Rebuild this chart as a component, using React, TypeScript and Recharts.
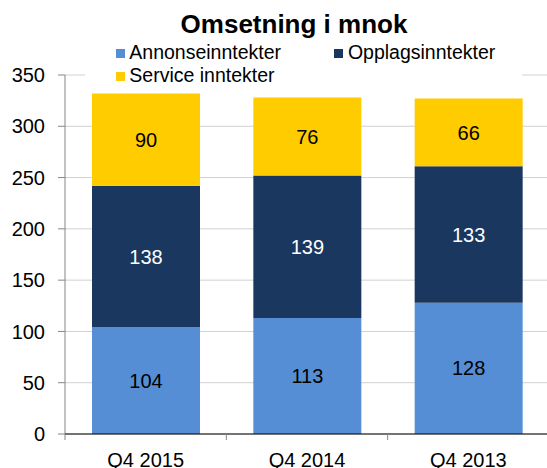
import React from "react";
import { BarChart, Bar, XAxis, YAxis, CartesianGrid, LabelList } from "recharts";

const categories = ["Q4 2015", "Q4 2014", "Q4 2013"];
const annonse = [104, 113, 128];
const opplag = [138, 139, 133];
const service = [90, 76, 66];
const yTicks = [0, 50, 100, 150, 200, 250, 300, 350];
const title = "Omsetning i mnok";
const seriesNames = ["Annonseinntekter", "Opplagsinntekter", "Service inntekter"];

const data = categories.map((c, i) => ({
  name: c,
  annonse: annonse[i],
  opplag: opplag[i],
  service: service[i],
}));

const FONT = "'Liberation Sans', Arial, Helvetica, sans-serif";
const BLUE = "#558ED5";
const NAVY = "#1A3760";
const YELLOW = "#FFCC00";
const AXIS_GRAY = "#868686";

const CHART_W = 549;
const LEFT = 65;
const HALF_BAND = (CHART_W - LEFT) / 3 / 2;

const XTick = (props: any) => {
  const { x, y, payload } = props;
  return (
    <g>
      <line x1={x - HALF_BAND} x2={x - HALF_BAND} y1={y} y2={y + 6} stroke={AXIS_GRAY} strokeWidth={1} />
      <text x={x} y={y + 18.5} dy="0.71em" textAnchor="middle" fill="#000" fontSize={20} fontFamily={FONT}>
        {payload.value}
      </text>
    </g>
  );
};

const legendItems = [
  { name: seriesNames[0], color: BLUE, left: 30.7, top: 0 },
  { name: seriesNames[1], color: NAVY, left: 249.3, top: 0 },
  { name: seriesNames[2], color: YELLOW, left: 30.7, top: 23 },
];

export default function App() {
  return (
    <div
      style={{
        position: "absolute",
        left: 0,
        top: 0,
        width: 547,
        height: 468,
        overflow: "hidden",
        background: "#fff",
        fontFamily: FONT,
      }}
    >
      <BarChart width={CHART_W} height={468} data={data} margin={{ top: 75, right: 0, bottom: 0, left: 0 }} barSize={108}>
        <CartesianGrid vertical={false} stroke="#D0D0D0" strokeWidth={1} />
        <YAxis
          width={LEFT}
          domain={[0, 350]}
          ticks={yTicks}
          interval={0}
          axisLine={{ stroke: AXIS_GRAY, strokeWidth: 1 }}
          tickLine={{ stroke: AXIS_GRAY, strokeWidth: 1 }}
          tickSize={7}
          tickMargin={13}
          tick={{ fill: "#000", fontSize: 20, fontFamily: FONT }}
        />
        <XAxis
          dataKey="name"
          height={34}
          axisLine={{ stroke: "#000", strokeWidth: 1 }}
          tickLine={false}
          tickSize={0}
          tickMargin={0}
          interval={0}
          tick={<XTick />}
        />
        <Bar dataKey="annonse" stackId="a" fill={BLUE} isAnimationActive={false}>
          <LabelList dataKey="annonse" position="center" fill="#000" fontSize={20} fontFamily={FONT} />
        </Bar>
        <Bar dataKey="opplag" stackId="a" fill={NAVY} isAnimationActive={false}>
          <LabelList dataKey="opplag" position="center" fill="#fff" fontSize={20} fontFamily={FONT} />
        </Bar>
        <Bar dataKey="service" stackId="a" fill={YELLOW} isAnimationActive={false}>
          <LabelList dataKey="service" position="center" fill="#000" fontSize={20} fontFamily={FONT} />
        </Bar>
      </BarChart>
      <div
        style={{
          position: "absolute",
          left: 94,
          top: 9,
          width: 400,
          textAlign: "center",
          fontSize: 26,
          lineHeight: "30px",
          fontWeight: "bold",
          color: "#000",
          whiteSpace: "nowrap",
        }}
      >
        {title}
      </div>
      <div
        style={{
          position: "absolute",
          left: 85,
          top: 41,
          width: 437,
          height: 46,
          background: "#fff",
        }}
      >
        {legendItems.map((it) => (
          <div
            key={it.name}
            style={{
              position: "absolute",
              left: it.left,
              top: it.top,
              height: 23,
              lineHeight: "23px",
              fontSize: 19.5,
              color: "#000",
              whiteSpace: "nowrap",
            }}
          >
            <span
              style={{
                position: "absolute",
                left: 0,
                top: 8,
                width: 9,
                height: 9,
                background: it.color,
              }}
            />
            <span style={{ position: "absolute", left: 13.6, top: 0 }}>{it.name}</span>
          </div>
        ))}
      </div>
    </div>
  );
}
